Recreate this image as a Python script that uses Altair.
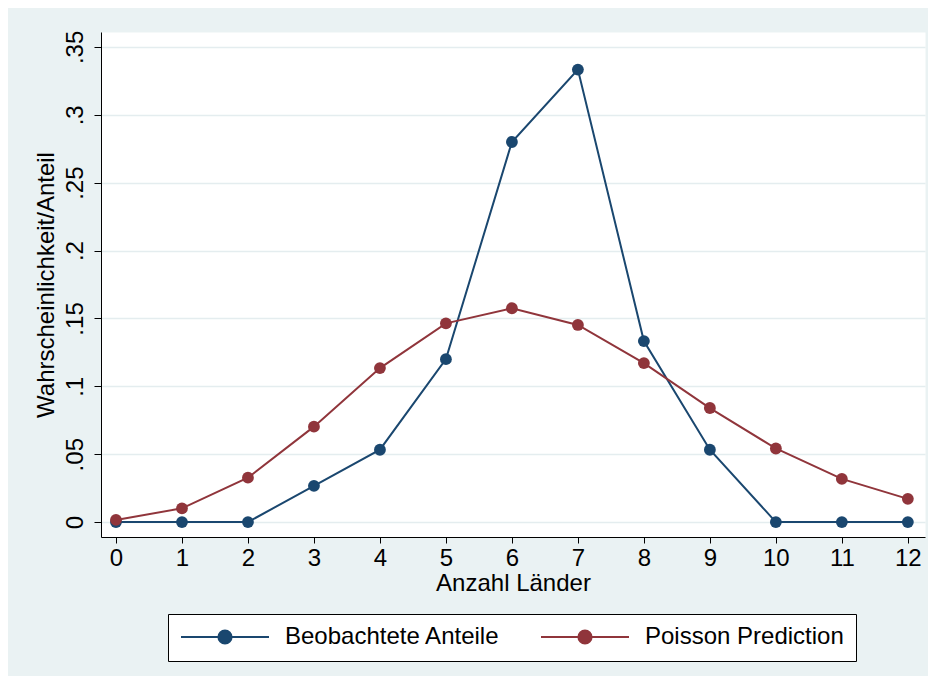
import altair as alt
import pandas as pd

# ---- data ----
anzahl = list(range(13))
beobachtet = [0.0, 0.0, 0.0, 0.0267, 0.0533, 0.12, 0.28, 0.3333, 0.1333, 0.0533, 0.0, 0.0, 0.0]
poisson = [0.0016, 0.0101, 0.0327, 0.0703, 0.1134, 0.1464, 0.1575, 0.1452, 0.1171, 0.0840, 0.0542, 0.0318, 0.0171]
series_names = ["Beobachtete Anteile", "Poisson Prediction"]
series_colors = ["#1A476F", "#90353B"]
y_ticks = [0, 0.05, 0.1, 0.15, 0.2, 0.25, 0.3, 0.35]

rows = []
for name, vals in zip(series_names, [beobachtet, poisson]):
    for xv, yv in zip(anzahl, vals):
        rows.append({"Anzahl": xv, "Wert": yv, "Serie": name})
df = pd.DataFrame(rows)

FONT = "Liberation Sans"
FS = 24

sym_path = ("M-1,0L1,0M-0.15,0A0.15,0.15,0,1,1,0.15,0"
            "A0.15,0.15,0,1,1,-0.15,0Z")

legend = alt.Legend(
    title=None,
    orient="none",
    legendX=67,
    legendY=582,
    direction="horizontal",
    symbolType=sym_path,
    symbolSize=7744,
    symbolStrokeWidth=2,
    symbolOpacity=1,
    clipHeight=22,
    labelFont=FONT,
    labelFontSize=FS,
    labelColor="black",
    labelLimit=500,
    labelOffset=15,
    columnPadding=40,
    padding=12,
    fillColor="white",
    strokeColor="black",
    cornerRadius=0,
)

color = alt.Color(
    "Serie:N",
    scale=alt.Scale(domain=series_names, range=series_colors),
    legend=legend,
)

x_enc = alt.X(
    "Anzahl:Q",
    scale=alt.Scale(domain=[-0.227, 12.26], nice=False, zero=False),
    axis=alt.Axis(
        title="Anzahl Länder",
        values=anzahl,
        format="d",
        grid=False,
        tickSize=6,
        labelPadding=3,
        titlePadding=1,
        labelFlush=False,
    ),
)
y_enc = alt.Y(
    "Wert:Q",
    scale=alt.Scale(domain=[-0.011, 0.361], nice=False, zero=False),
    axis=alt.Axis(
        title="Wahrscheinlichkeit/Anteil",
        values=y_ticks,
        labelExpr="datum.value == 0 ? '0' : slice(format(datum.value, '.2~f'), 1)",
        grid=True,
        gridColor="#E4EDEF",
        gridWidth=1.5,
        tickSize=7,
        labelAngle=270,
        labelAlign="center",
        labelBaseline="alphabetic",
        labelPadding=12,
        titlePadding=5,
        labelFlush=False,
    ),
)

base = alt.Chart(df)
lines = base.mark_line(strokeWidth=2).encode(x=x_enc, y=y_enc, color=color, detail="Serie:N")
points = base.mark_point(filled=True, size=140, opacity=1, shape="circle").encode(
    x=x_enc, y=y_enc, color=color
)

chart = (
    alt.layer(lines, points)
    .properties(
        width=824,
        height=505,
        autosize=alt.AutoSizeParams(type="none"),
        padding={"left": 93, "top": 24, "right": 3, "bottom": 139},
        background="#EAF2F3",
    )
    .configure_view(fill="white", stroke="transparent")
    .configure_axis(
        labelFont=FONT,
        labelFontSize=FS,
        labelColor="black",
        titleFont=FONT,
        titleFontSize=FS,
        titleFontWeight="normal",
        titleColor="black",
        domainColor="black",
        domainWidth=1,
        tickColor="black",
        tickWidth=1,
    )
)

chart.save("out.html", embed_options={"renderer": "svg", "actions": False})
